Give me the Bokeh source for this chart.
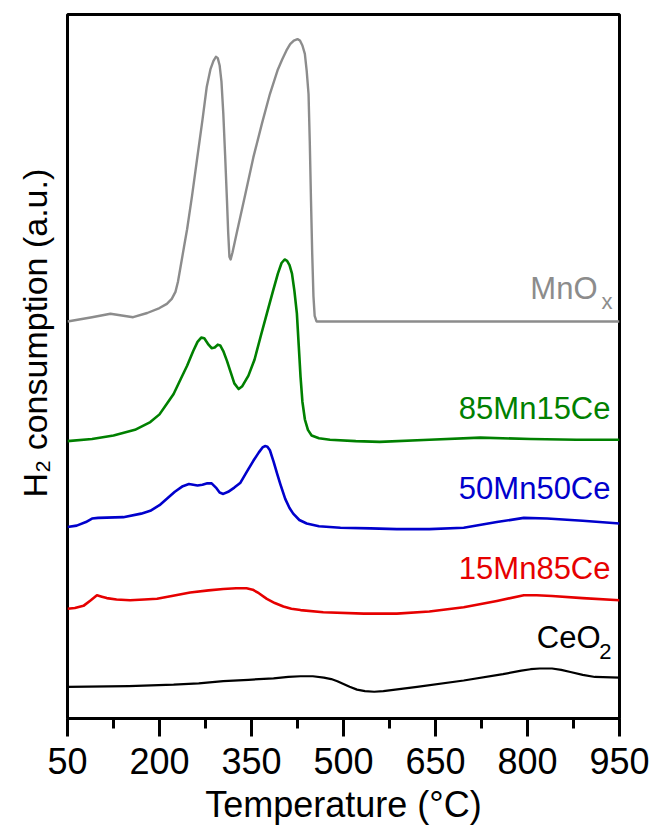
from bokeh.plotting import figure
from bokeh.models import Label, FixedTicker, Range1d, Title
from bokeh.embed import file_html
from bokeh.resources import INLINE

# ---------------- data (temperature in °C, offset signal in frame fraction) ----------------
ceo2_T = [50, 150, 223, 264, 304, 345, 386, 410, 430, 450, 468, 480, 490, 500, 510, 522, 535, 550, 565, 620, 696, 760, 790, 805, 820, 840, 855, 870, 890, 910, 950]
ceo2_y = [.045, .046, .048, .050, .053, .055, .057, .059, .060, .060, .058, .056, .053, .049, .045, .041, .039, .038, .039, .045, .054, .063, .068, .070, .071, .071, .069, .066, .062, .059, .058]

mn15_T = [50, 62, 76, 88, 98, 106, 114, 130, 152, 175, 196, 220, 250, 280, 304, 325, 342, 352, 362, 375, 388, 402, 415, 430, 467, 533, 587, 640, 696, 750, 794, 815, 840, 890, 950]
mn15_y = [.156, .157, .160, .168, .175, .173, .171, .169, .168, .169, .170, .174, .179, .182, .184, .185, .185, .183, .178, .170, .164, .159, .156, .154, .151, .149, .149, .152, .158, .167, .175, .175, .174, .171, .168]

mn50_T = [50, 65, 80, 90, 100, 141, 170, 185, 200, 212, 225, 238, 248, 255, 262, 270, 278, 285, 292, 298, 304, 312, 322, 332, 342, 353, 362, 368, 372, 376, 380, 386, 392, 397, 405, 412, 418, 428, 440, 460, 495, 544, 587, 640, 696, 750, 794, 832, 890, 950]
mn50_y = [.272, .274, .279, .284, .285, .286, .291, .295, .303, .312, .322, .330, .333, .332, .331, .332, .334, .334, .328, .321, .319, .322, .328, .335, .350, .366, .378, .385, .387, .386, .381, .365, .347, .333, .312, .299, .291, .282, .277, .273, .271, .270, .269, .269, .271, .279, .285, .284, .281, .277]

mn85_T = [50, 90, 125, 160, 185, 200, 212, 223, 235, 245, 255, 262, 268, 273, 280, 285, 290, 295, 299, 304, 310, 316, 322, 329, 335, 345, 355, 365, 375, 385, 393, 399, 404, 408, 412, 416, 420, 424, 427, 430, 433, 437, 442, 448, 460, 478, 520, 559, 640, 723, 805, 880, 950]
mn85_y = [.394, .397, .402, .410, .421, .432, .447, .461, .483, .501, .522, .535, .541, .540, .531, .526, .527, .531, .530, .522, .508, .492, .476, .468, .472, .487, .510, .543, .575, .607, .632, .647, .652, .650, .644, .632, .607, .575, .530, .485, .450, .425, .410, .402, .398, .396, .394, .393, .396, .399, .397, .396, .396]

mnox_T = [50, 90, 120, 157, 180, 200, 212, 220, 226, 230, 234, 240, 245, 253, 261, 270, 277, 283, 288, 292, 295, 298, 301, 304, 307, 310, 312, 314, 316, 319, 326, 340, 353, 367, 380, 393, 400, 407, 413, 419, 425, 429, 433, 437, 440, 443, 445, 447, 449, 451, 453, 456, 600, 950]
mnox_y = [.564, .570, .575, .570, .576, .583, .589, .596, .606, .620, .640, .670, .695, .742, .793, .850, .897, .922, .934, .940, .938, .928, .905, .860, .800, .736, .690, .656, .652, .662, .690, .745, .797, .845, .887, .922, .936, .949, .958, .963, .965, .963, .956, .944, .920, .887, .820, .736, .660, .600, .572, .564, .564, .564]

x_ticks = [50, 200, 350, 500, 650, 800, 950]
x_minor = [125, 275, 425, 575, 725, 875]

names = ["MnO", "85Mn15Ce", "50Mn50Ce", "15Mn85Ce", "CeO"]
subs = ["x", "", "", "", "2"]
colors = ["#8c8c8c", "#008000", "#0000cc", "#e60000", "#000000"]

# ---------------- layout helpers ----------------
W, H = 654, 829
FL, FR, FT, FB = 67, 619, 14, 718


def px_x(px):
    return 50 + (px - FL) * 900.0 / (FR - FL)


def px_y(py):
    return (FB - py) / float(FB - FT)


FONT = "Liberation Sans"

p = figure(width=W, height=H, output_backend="svg", toolbar_location=None,
           x_range=Range1d(50, 950), y_range=Range1d(0, 1),
           min_border_left=FL, min_border_right=W - FR,
           min_border_top=FT, min_border_bottom=H - FB)
p.grid.visible = False
p.yaxis.visible = False
p.outline_line_color = "black"
p.outline_line_width = 3
p.background_fill_color = "white"
p.border_fill_color = "white"

ax = p.xaxis[0]
ax.ticker = FixedTicker(ticks=x_ticks, minor_ticks=x_minor)
ax.axis_line_width = 3
ax.major_tick_line_width = 3
ax.minor_tick_line_width = 3
ax.major_tick_out = 18
ax.major_tick_in = 0
ax.minor_tick_out = 10
ax.minor_tick_in = 0
ax.major_label_text_font = FONT
ax.major_label_text_font_size = "36px"
ax.major_label_text_color = "black"
ax.major_label_standoff = 11
ax.axis_label = "Temperature (°C)"
ax.axis_label_text_font = FONT
ax.axis_label_text_font_size = "36px"
ax.axis_label_text_font_style = "normal"
ax.axis_label_text_color = "black"
ax.axis_label_standoff = 7

# rotated y title, placed with an offset from the frame bottom
ytitle = Title(text="H\u2082 consumption (a.u.)", align="left", offset=FB - 497,
               vertical_align="top",
               text_font=FONT, text_font_size="34px", text_font_style="normal",
               text_color="black", standoff=24)
p.add_layout(ytitle, "left")

series = [(mnox_T, mnox_y, 2.4), (mn85_T, mn85_y, 2.6), (mn50_T, mn50_y, 2.6),
          (mn15_T, mn15_y, 2.6), (ceo2_T, ceo2_y, 2.2)]
for (t, y, lw), c in zip(series, colors):
    p.line(t, y, line_color=c, line_width=lw, line_join="round")

# curve labels: (main text right edge px, baseline px, sub right px, sub baseline px)
label_pos = [(597, 288, 612, 301), (610, 408, None, None), (610, 488, None, None),
             (610, 568, None, None), (600, 637, 611, 651)]
for name, sub, c, (rx, by, sx, sy) in zip(names, subs, colors, label_pos):
    p.add_layout(Label(x=px_x(rx), y=px_y(by), text=name, text_align="right",
                       text_baseline="alphabetic", text_font=FONT,
                       text_font_size="31px", text_color=c))
    if sub:
        p.add_layout(Label(x=px_x(sx), y=px_y(sy), text=sub, text_align="right",
                           text_baseline="alphabetic", text_font=FONT,
                           text_font_size="22px", text_color=c))

open("out.html", "w").write(file_html(p, INLINE))
